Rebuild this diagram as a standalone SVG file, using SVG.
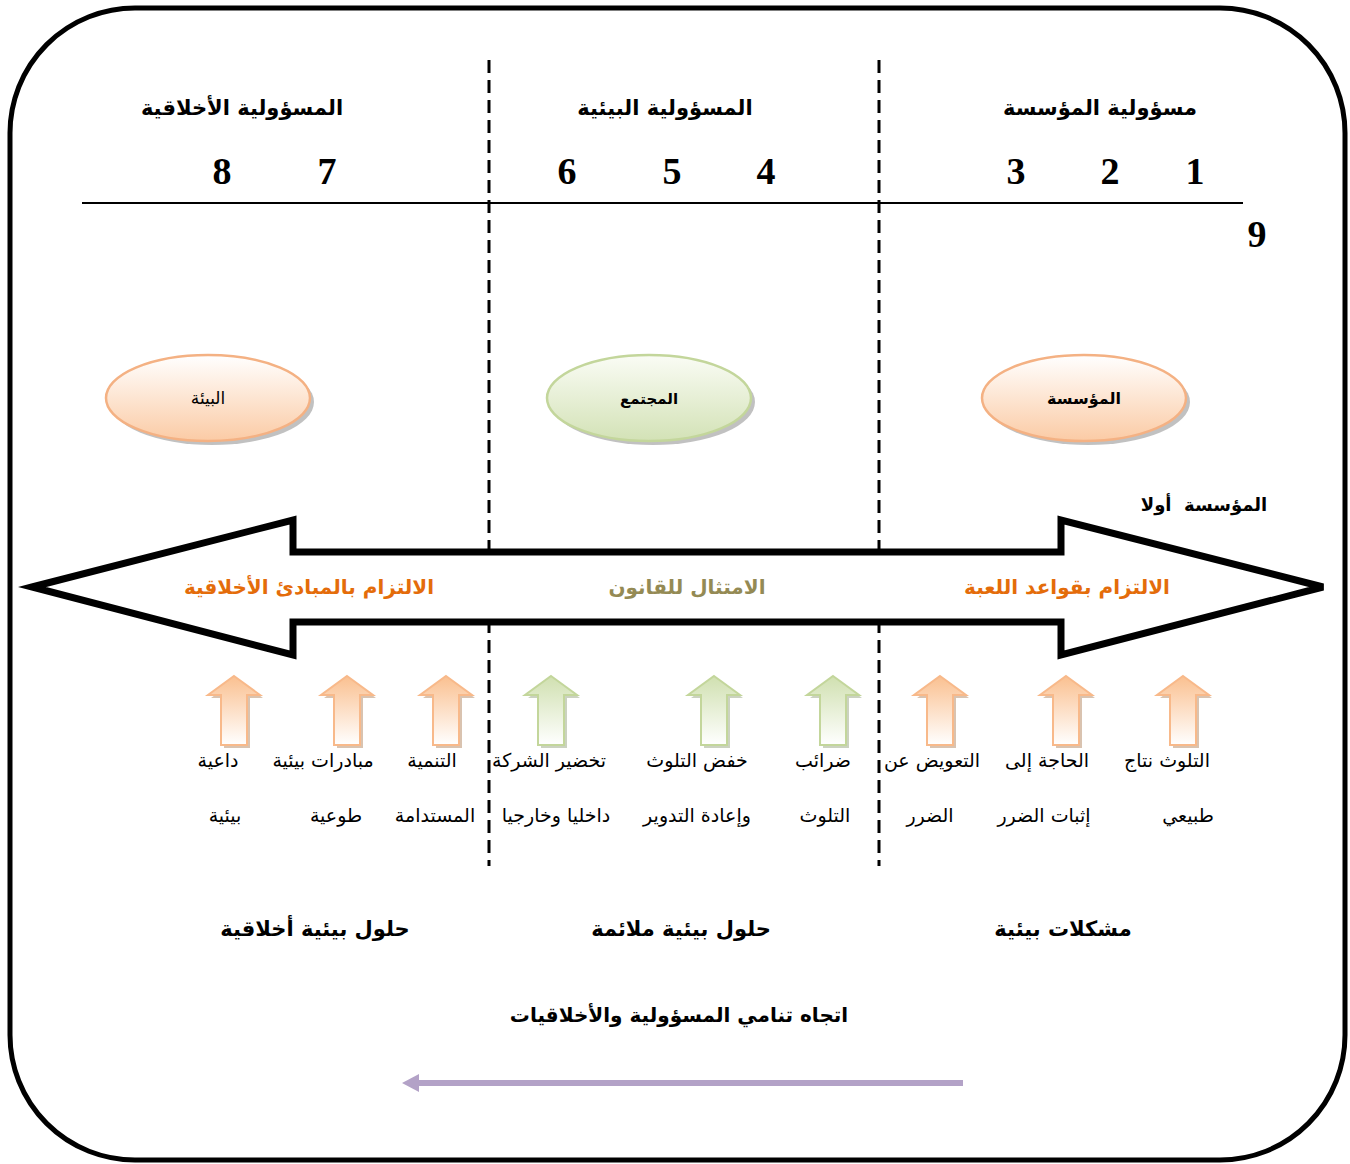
<svg xmlns="http://www.w3.org/2000/svg" width="1350" height="1164" viewBox="0 0 1350 1164">
  <style>
    .ar { font-family: "DejaVu Sans", "Noto Sans", sans-serif; direction: rtl; text-anchor: middle; }
    .head { font-size: 21px; font-weight: bold; fill: #000; }
    .num { font-family: "Liberation Serif", serif; font-size: 38px; font-weight: bold; fill: #000; text-anchor: middle; }
    .lbl { font-size: 19px; fill: #000; }
    .band { font-size: 20px; font-weight: bold; }
    .node-txt { font-size: 16px; font-weight: bold; fill: #000; }
    .divider { stroke: #000; stroke-width: 3; stroke-dasharray: 13 7; fill: none; }
    .peach-ell { fill: url(#gPeachEll); stroke: #F4B183; stroke-width: 2.5; }
    .green-ell { fill: url(#gGreenEll); stroke: #C3D69B; stroke-width: 2.5; }
    .shadow { fill: #A6A6A6; opacity: 0.7; }
  </style>
  <defs>
    <linearGradient id="gPeachEll" x1="0" y1="0" x2="0" y2="1">
      <stop offset="0" stop-color="#FFFFFF"/>
      <stop offset="1" stop-color="#FBCBA5"/>
    </linearGradient>
    <linearGradient id="gGreenEll" x1="0" y1="0" x2="0" y2="1">
      <stop offset="0" stop-color="#FAFCF5"/>
      <stop offset="1" stop-color="#D3E2B6"/>
    </linearGradient>
    <linearGradient id="gPeachArr" x1="0" y1="0" x2="0" y2="1">
      <stop offset="0" stop-color="#FAC090"/>
      <stop offset="1" stop-color="#FFFFFF"/>
    </linearGradient>
    <linearGradient id="gGreenArr" x1="0" y1="0" x2="0" y2="1">
      <stop offset="0" stop-color="#D0E0B0"/>
      <stop offset="1" stop-color="#FFFFFF"/>
    </linearGradient>
    <path id="upArrow" d="M0,0 L26,19 L13,19 L13,69 L-13,69 L-13,19 L-26,19 Z"/>
    <g id="peachUp">
      <use href="#upArrow" transform="translate(3,3)" fill="#C9A98F" opacity="0.7"/>
      <use href="#upArrow" fill="url(#gPeachArr)" stroke="#F8B98A" stroke-width="2"/>
    </g>
    <g id="greenUp">
      <use href="#upArrow" transform="translate(3,3)" fill="#B5BFA5" opacity="0.7"/>
      <use href="#upArrow" fill="url(#gGreenArr)" stroke="#C3D69B" stroke-width="2"/>
    </g>
  </defs>

  <rect width="1350" height="1164" fill="#FFFFFF"/>

  <!-- outer frame -->
  <rect x="10" y="8" width="1335" height="1152" rx="125" ry="125" fill="none" stroke="#000" stroke-width="5"/>

  <!-- column dividers and the scale line -->
  <g id="connectors">
    <line class="divider" x1="489" y1="60" x2="489" y2="866"/>
    <line class="divider" x1="879" y1="60" x2="879" y2="866"/>
    <line x1="82" y1="203" x2="1243" y2="203" stroke="#000" stroke-width="1.8"/>
    <!-- growth direction arrow -->
    <line x1="963" y1="1083" x2="416" y2="1083" stroke="#B3A2C7" stroke-width="6"/>
    <polygon points="402,1083 419,1074 419,1092" fill="#B3A2C7"/>
  </g>

  <!-- column headings -->
  <g id="headings">
    <text class="ar head" x="242" y="115">المسؤولية الأخلاقية</text>
    <text class="ar head" x="665" y="115">المسؤولية البيئية</text>
    <text class="ar head" x="1100" y="115">مسؤولية المؤسسة</text>
  </g>

  <!-- scale numbers -->
  <g id="scale">
    <text class="num" x="222" y="184">8</text>
    <text class="num" x="327" y="184">7</text>
    <text class="num" x="567" y="184">6</text>
    <text class="num" x="672" y="184">5</text>
    <text class="num" x="766" y="184">4</text>
    <text class="num" x="1016" y="184">3</text>
    <text class="num" x="1110" y="184">2</text>
    <text class="num" x="1195" y="184">1</text>
    <text class="num" x="1257" y="247">9</text>
  </g>

  <!-- actor ellipses -->
  <g id="node-environment">
    <ellipse class="shadow" cx="212" cy="402" rx="102" ry="43"/>
    <ellipse class="peach-ell" cx="208" cy="398" rx="102" ry="43"/>
    <text class="ar node-txt" x="208" y="404" style="font-weight:normal;font-size:17px">البيئة</text>
  </g>
  <g id="node-society">
    <ellipse class="shadow" cx="653" cy="402" rx="102" ry="43"/>
    <ellipse class="green-ell" cx="649" cy="398" rx="102" ry="43"/>
    <text class="ar node-txt" x="649" y="404" style="font-size:15px">المجتمع</text>
  </g>
  <g id="node-firm">
    <ellipse class="shadow" cx="1088" cy="402" rx="102" ry="43"/>
    <ellipse class="peach-ell" cx="1084" cy="398" rx="102" ry="43"/>
    <text class="ar node-txt" x="1084" y="404">المؤسسة</text>
  </g>

  <text class="ar" x="1204" y="511" style="font-size:18px;font-weight:bold;white-space:pre">المؤسسة  أولا</text>

  <!-- double-headed band -->
  <g id="node-band">
    <polygon points="32,587 293,520 293,552 1061,552 1061,520 1323,587 1061,655 1061,622 293,622 293,655" fill="#FFFFFF" stroke="#000" stroke-width="7" stroke-linejoin="miter"/>
    <text class="ar band" x="309" y="594" fill="#E46C0A">الالتزام بالمبادئ الأخلاقية</text>
    <text class="ar band" x="687" y="594" fill="#948A54">الامتثال للقانون</text>
    <text class="ar band" x="1067" y="594" fill="#E46C0A">الالتزام بقواعد اللعبة</text>
  </g>

  <!-- small upward arrows -->
  <g id="node-arrows">
    <use href="#peachUp" x="234" y="676"/>
    <use href="#peachUp" x="347" y="676"/>
    <use href="#peachUp" x="446" y="676"/>
    <use href="#greenUp" x="551" y="676"/>
    <use href="#greenUp" x="714" y="676"/>
    <use href="#greenUp" x="833" y="676"/>
    <use href="#peachUp" x="940" y="676"/>
    <use href="#peachUp" x="1066" y="676"/>
    <use href="#peachUp" x="1183" y="676"/>
  </g>

  <!-- arrow captions -->
  <g id="node-captions">
    <text class="ar lbl" x="218" y="767">داعية</text>
    <text class="ar lbl" x="225" y="822">بيئية</text>
    <text class="ar lbl" x="323" y="767">مبادرات بيئية</text>
    <text class="ar lbl" x="336" y="822">طوعية</text>
    <text class="ar lbl" x="432" y="767">التنمية</text>
    <text class="ar lbl" x="435" y="822">المستدامة</text>
    <text class="ar lbl" x="549" y="767">تخضير الشركة</text>
    <text class="ar lbl" x="556" y="822">داخليا وخارجيا</text>
    <text class="ar lbl" x="697" y="767">خفض التلوث</text>
    <text class="ar lbl" x="697" y="822">وإعادة التدوير</text>
    <text class="ar lbl" x="823" y="767">ضرائب</text>
    <text class="ar lbl" x="825" y="822">التلوث</text>
    <text class="ar lbl" x="932" y="767">التعويض عن</text>
    <text class="ar lbl" x="930" y="822">الضرر</text>
    <text class="ar lbl" x="1047" y="767">الحاجة إلى</text>
    <text class="ar lbl" x="1044" y="822">إثبات الضرر</text>
    <text class="ar lbl" x="1167" y="767">التلوث نتاج</text>
    <text class="ar lbl" x="1188" y="822">طبيعي</text>
  </g>

  <!-- outcome headings -->
  <g id="outcomes">
    <text class="ar head" x="315" y="936">حلول بيئية أخلاقية</text>
    <text class="ar head" x="681" y="936">حلول بيئية ملائمة</text>
    <text class="ar head" x="1063" y="936">مشكلات بيئية</text>
    <text class="ar head" x="679" y="1022" style="font-size:20px">اتجاه تنامي المسؤولية والأخلاقيات</text>
  </g>
</svg>
